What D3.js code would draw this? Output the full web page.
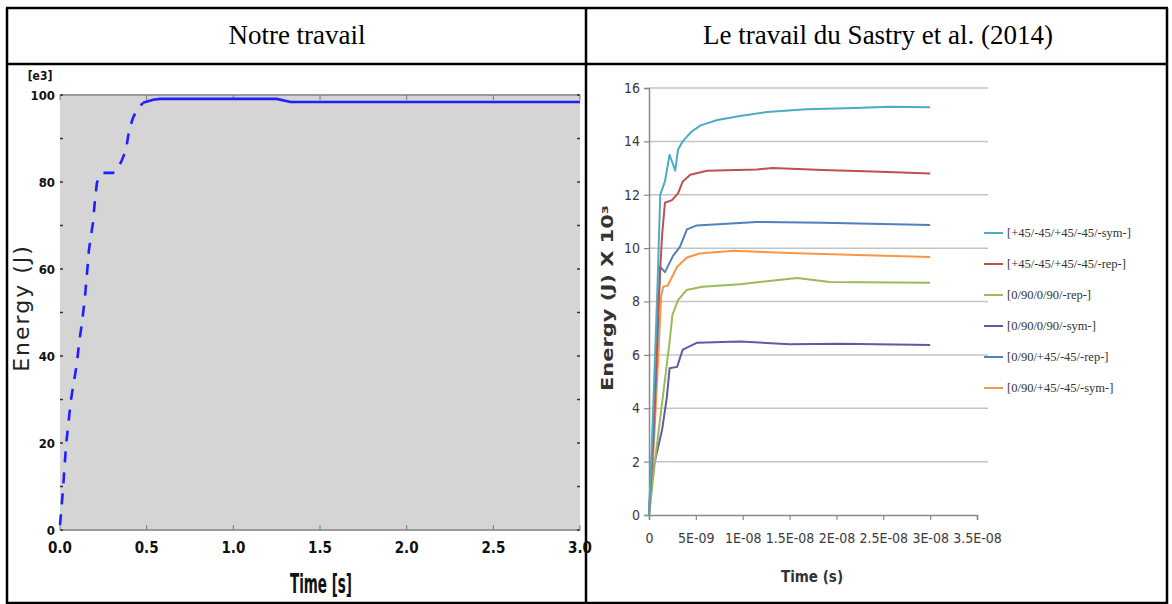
<!DOCTYPE html>
<html>
<head>
<meta charset="utf-8">
<script src="https://cdn.jsdelivr.net/npm/d3@7"></script>
<style>
  html, body { margin: 0; padding: 0; background: #fff; }
  svg { display: block; }
</style>
</head>
<body>
<svg id="viz"></svg>
<script>
// ---- left panel data (Notre travail) ----
const leftTime = [0, 0.017, 0.035, 0.063, 0.098, 0.11, 0.127, 0.144, 0.156, 0.167, 0.19, 0.202, 0.213, 0.231, 0.248, 0.306, 0.335, 0.358, 0.381, 0.392, 0.404, 0.421, 0.444, 0.479, 0.537, 0.577, 1.25, 1.33, 3.0]
const leftEnergy = [1.1, 9.2, 19.5, 29.9, 38.4, 43, 47.6, 53.6, 59.1, 64.4, 70.6, 75.9, 79.8, 81.6, 82.1, 82.1, 83.2, 85.1, 87.4, 90.3, 92.6, 94.7, 96.6, 98.2, 98.9, 99.1, 99.1, 98.4, 98.4]
const leftXTicks = [0, 0.5, 1.0, 1.5, 2.0, 2.5, 3.0]
const leftXLabels = ["0.0", "0.5", "1.0", "1.5", "2.0", "2.5", "3.0"]
const leftYTicks = [0, 20, 40, 60, 80, 100]
const leftYLabels = ["0", "20", "40", "60", "80", "100"]

// ---- right panel data (Sastry et al. 2014), time in ns ----
const seriesNames = [
  "[+45/-45/+45/-45/-sym-]",
  "[+45/-45/+45/-45/-rep-]",
  "[0/90/0/90/-rep-]",
  "[0/90/0/90/-sym-]",
  "[0/90/+45/-45/-rep-]",
  "[0/90/+45/-45/-sym-]",
]
const seriesColors = ["#4bacc6", "#c0504d", "#9bbb59", "#5e5aa8", "#4f81bd", "#f79646"]

const timeA = [0, 0.4, 0.9, 1.2, 1.7, 2.2, 2.5, 2.8, 3.1, 3.6, 4.5, 5.5, 7.3, 9.7, 12.6, 16.8, 22, 25.7, 30]
const energyA = [0, 3.5, 8.5, 12, 12.5, 13.5, 13.2, 12.9, 13.7, 14.0, 14.35, 14.6, 14.8, 14.95, 15.1, 15.2, 15.25, 15.3, 15.28]
const timeB = [0, 0.5, 1.0, 1.4, 1.7, 2.45, 3.1, 3.6, 4.4, 6.2, 11.5, 13.2, 18.5, 23.9, 30]
const energyB = [0, 3.5, 8, 10.5, 11.7, 11.8, 12.05, 12.5, 12.75, 12.9, 12.95, 13.0, 12.93, 12.87, 12.8]
const timeC = [0, 0.8, 1.5, 2.2, 2.5, 3.1, 4.0, 5.7, 9.7, 15.8, 19.3, 30]
const energyC = [0, 2.5, 4.5, 6.5, 7.5, 8.05, 8.43, 8.55, 8.65, 8.88, 8.73, 8.7]
const timeD = [0, 0.43, 1.4, 1.9, 2.2, 3.0, 3.6, 5.1, 9.7, 15, 20.4, 30]
const energyD = [0, 1.7, 3.2, 4.4, 5.5, 5.55, 6.2, 6.45, 6.5, 6.4, 6.42, 6.37]
const timeE = [0, 0.5, 1.0, 1.2, 1.7, 2.55, 3.3, 4.05, 5.1, 11.5, 18.5, 30]
const energyE = [0, 3, 7.5, 9.3, 9.1, 9.7, 10.05, 10.7, 10.85, 10.98, 10.95, 10.87]
const timeF = [0, 0.5, 1.0, 1.3, 1.5, 2.0, 3.0, 4.05, 5.4, 9.0, 15, 22.2, 30]
const energyF = [0, 2.5, 6, 8.2, 8.55, 8.6, 9.3, 9.65, 9.8, 9.9, 9.82, 9.74, 9.67]

const rightTimes = [timeA, timeB, timeC, timeD, timeE, timeF]
const rightEnergies = [energyA, energyB, energyC, energyD, energyE, energyF]
const rightXTicks = [0, 5, 10, 15, 20, 25, 30, 35]
const rightXLabels = ["0", "5E-09", "1E-08", "1.5E-08", "2E-08", "2.5E-08", "3E-08", "3.5E-08"]
const rightYTicks = [0, 2, 4, 6, 8, 10, 12, 14, 16]

const W = 1172, H = 604
const svg = d3.select("#viz").attr("width", W).attr("height", H)
svg.append("rect").attr("width", W).attr("height", H).attr("fill", "#fff")

// ---- table frame ----
const frame = svg.append("g").attr("stroke", "#000").attr("stroke-width", 2.5)
frame.append("line").attr("x1", 6).attr("x2", 1168).attr("y1", 8).attr("y2", 8)
frame.append("line").attr("x1", 6).attr("x2", 1168).attr("y1", 64).attr("y2", 64)
frame.append("line").attr("x1", 6).attr("x2", 1168).attr("y1", 603).attr("y2", 603)
frame.append("line").attr("x1", 7).attr("x2", 7).attr("y1", 8).attr("y2", 604)
frame.append("line").attr("x1", 586).attr("x2", 586).attr("y1", 8).attr("y2", 604)
frame.append("line").attr("x1", 1167).attr("x2", 1167).attr("y1", 8).attr("y2", 604)

const headFont = "'Liberation Serif', 'Times New Roman', serif"
svg.append("text").attr("x", 297).attr("y", 44).attr("text-anchor", "middle")
  .attr("font-family", headFont).attr("font-size", 27).text("Notre travail")
svg.append("text").attr("x", 878).attr("y", 44).attr("text-anchor", "middle")
  .attr("font-family", headFont).attr("font-size", 27).text("Le travail du Sastry et al. (2014)")

// ---- left chart ----
const condensed = "'DejaVu Sans Condensed', 'DejaVu Sans', sans-serif"
const lx = d3.scaleLinear().domain([0, 3]).range([60, 580])
const ly = d3.scaleLinear().domain([0, 100]).range([530, 95])
const left = svg.append("g")

left.append("rect").attr("x", lx(0)).attr("y", ly(100))
  .attr("width", lx(3) - lx(0)).attr("height", ly(0) - ly(100)).attr("fill", "#d5d5d5")
left.append("line").attr("x1", lx(0)).attr("x2", lx(3)).attr("y1", ly(100)).attr("y2", ly(100))
  .attr("stroke", "#9a9a9a").attr("stroke-width", 2)
left.append("line").attr("x1", lx(0)).attr("x2", lx(3)).attr("y1", ly(0)).attr("y2", ly(0))
  .attr("stroke", "#9a9a9a").attr("stroke-width", 2)

// inward ticks on both sides
const minorY = d3.range(0, 101, 10)
left.selectAll(".ytl").data(minorY).join("line")
  .attr("x1", lx(0)).attr("x2", lx(0) + 3).attr("y1", (d) => ly(d)).attr("y2", (d) => ly(d))
  .attr("stroke", "#333").attr("stroke-width", 1.5)
left.selectAll(".ytr").data(minorY).join("line")
  .attr("x1", lx(3)).attr("x2", lx(3) - 3).attr("y1", (d) => ly(d)).attr("y2", (d) => ly(d))
  .attr("stroke", "#333").attr("stroke-width", 1.5)
left.selectAll(".xtb").data(leftXTicks).join("line")
  .attr("x1", (d) => lx(d)).attr("x2", (d) => lx(d)).attr("y1", ly(0)).attr("y2", ly(0) - 5)
  .attr("stroke", "#777").attr("stroke-width", 1)
left.selectAll(".xtt").data(leftXTicks).join("line")
  .attr("x1", (d) => lx(d)).attr("x2", (d) => lx(d)).attr("y1", ly(100)).attr("y2", ly(100) + 5)
  .attr("stroke", "#777").attr("stroke-width", 1)

left.selectAll(".ylab").data(leftYTicks).join("text")
  .attr("x", 55).attr("y", (d) => ly(d) + 5).attr("text-anchor", "end")
  .attr("font-family", condensed).attr("font-weight", "bold").attr("font-size", 13)
  .attr("fill", "#111").text((d, i) => leftYLabels[i])
left.selectAll(".xlab").data(leftXTicks).join("text")
  .attr("x", (d) => lx(d)).attr("y", 553).attr("text-anchor", "middle")
  .attr("font-family", condensed).attr("font-weight", "bold").attr("font-size", 15)
  .attr("fill", "#111").text((d, i) => leftXLabels[i])

left.append("text").attr("x", 40).attr("y", 80).attr("text-anchor", "middle")
  .attr("font-family", condensed).attr("font-weight", "bold").attr("font-size", 12)
  .attr("fill", "#111").text("[e3]")
left.append("text").attr("transform", "translate(29,308) rotate(-90)")
  .attr("text-anchor", "middle").attr("font-family", "'DejaVu Sans', sans-serif")
  .attr("font-size", 22).attr("letter-spacing", 2).attr("fill", "#222").text("Energy (J)")
left.append("text").attr("x", 321).attr("y", 593).attr("text-anchor", "middle")
  .attr("font-family", condensed).attr("font-weight", "bold").attr("font-size", 27)
  .attr("textLength", 62).attr("lengthAdjust", "spacingAndGlyphs")
  .attr("fill", "#111").text("Time [s]")

const leftPts = leftTime.map((t, i) => [t, leftEnergy[i]])
const splitAt = leftTime.indexOf(0.479)
const leftLine = d3.line().x((d) => lx(d[0])).y((d) => ly(d[1]))
left.append("path").attr("d", leftLine(leftPts.slice(0, splitAt + 1)))
  .attr("fill", "none").attr("stroke", "#1f1fff").attr("stroke-width", 2.6)
  .attr("stroke-dasharray", "11 10")
left.append("path").attr("d", leftLine(leftPts.slice(splitAt)))
  .attr("fill", "none").attr("stroke", "#1f1fff").attr("stroke-width", 2.6)

// ---- right chart ----
const narrow = "'Liberation Sans Narrow', 'DejaVu Sans Condensed', sans-serif"
const rx = d3.scaleLinear().domain([0, 35]).range([649, 977])
const ry = d3.scaleLinear().domain([0, 16]).range([515, 88])
const right = svg.append("g")

right.selectAll(".grid").data(rightYTicks.slice(1)).join("line")
  .attr("x1", rx(0)).attr("x2", 988).attr("y1", (d) => ry(d)).attr("y2", (d) => ry(d))
  .attr("stroke", "#c4c4c4").attr("stroke-width", 1.5)

const yAxis = right.append("g").attr("transform", `translate(${rx(0)},0)`)
  .call(d3.axisLeft(ry).tickValues(rightYTicks).tickSize(5).tickFormat(d3.format("d")))
const xAxis = right.append("g").attr("transform", `translate(0,${ry(0)})`)
  .call(d3.axisBottom(rx).tickValues(rightXTicks).tickSize(5).tickFormat((d, i) => rightXLabels[i]))
for (const ax of [yAxis, xAxis]) {
  ax.select(".domain").attr("stroke", "#8a8a8a").attr("stroke-width", 1.5)
  ax.selectAll(".tick line").attr("stroke", "#8a8a8a").attr("stroke-width", 1.2)
  ax.selectAll(".tick text").attr("font-family", narrow).attr("font-size", 14).attr("fill", "#3a3a3a")
}
yAxis.selectAll(".tick text").attr("x", -9)
xAxis.selectAll(".tick text").attr("y", 18)

right.append("text").attr("transform", "translate(613,298) rotate(-90)")
  .attr("text-anchor", "middle").attr("font-family", "'DejaVu Sans', sans-serif")
  .attr("font-weight", "bold").attr("font-size", 16).attr("fill", "#333")
  .attr("textLength", 186).attr("lengthAdjust", "spacingAndGlyphs")
  .text("Energy (J) X 10³")
right.append("text").attr("x", 812).attr("y", 582).attr("text-anchor", "middle")
  .attr("font-family", "'DejaVu Sans Condensed', 'DejaVu Sans', sans-serif")
  .attr("font-weight", "bold").attr("font-size", 15).attr("fill", "#333").text("Time (s)")

const rLine = d3.line().x((d) => rx(d[0])).y((d) => ry(d[1]))
// draw bottom-most series first so the top ones stay visible
const drawOrder = [3, 2, 5, 4, 1, 0]
right.selectAll(".series").data(drawOrder).join("path")
  .attr("d", (k) => rLine(rightTimes[k].map((t, i) => [t, rightEnergies[k][i]])))
  .attr("fill", "none").attr("stroke", (k) => seriesColors[k]).attr("stroke-width", 2)
  .attr("stroke-linejoin", "round")

const legend = right.selectAll(".leg").data(seriesNames).join("g")
  .attr("transform", (d, i) => `translate(984,${233 + i * 31})`)
legend.append("line").attr("x1", 0).attr("x2", 19).attr("y1", 0).attr("y2", 0)
  .attr("stroke", (d, i) => seriesColors[i]).attr("stroke-width", 2)
legend.append("text").attr("x", 23).attr("y", 4)
  .attr("font-family", headFont).attr("font-size", 12.5).attr("fill", "#333").text((d) => d)
</script>
</body>
</html>
